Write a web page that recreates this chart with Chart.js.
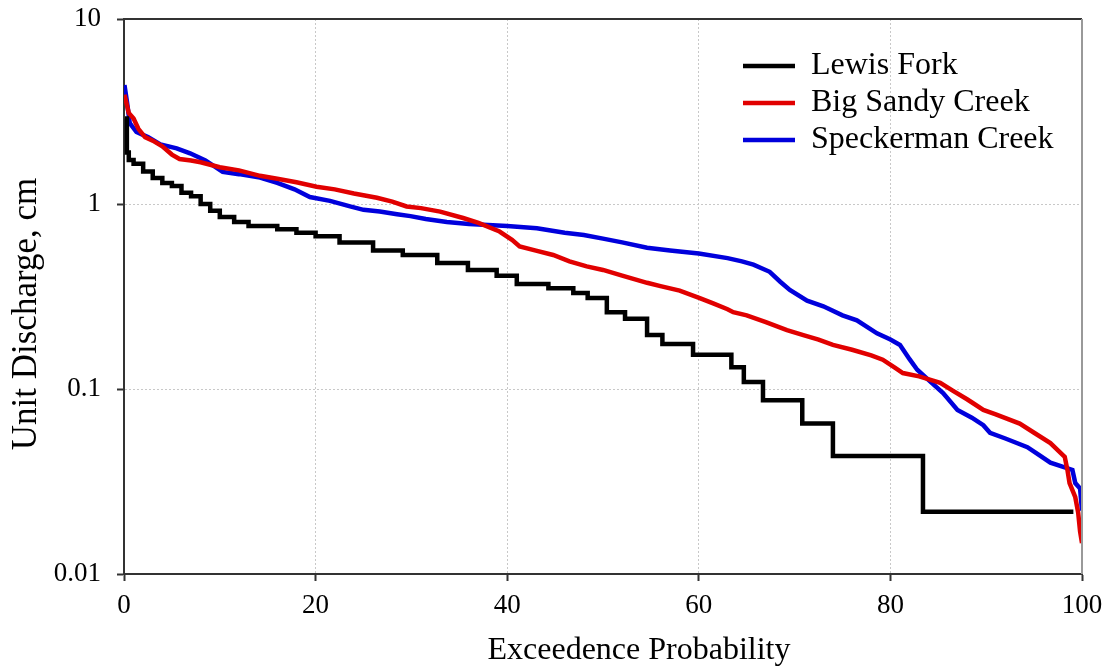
<!DOCTYPE html>
<html>
<head>
<meta charset="utf-8">
<title>Flow duration curves</title>
<script src="https://cdn.jsdelivr.net/npm/chart.js@4.4.1/dist/chart.umd.min.js"></script>
<style>
  html, body { margin: 0; padding: 0; background: #fff; }
  #wrap { width: 1113px; height: 671px; position: relative; }
</style>
</head>
<body>
<div id="wrap"><canvas id="chartCanvas"></canvas></div>
<script>
// Exceedence probability (%) and unit discharge (cm)

// Lewis Fork – step series, x = start of each step
const lewisX = [0.1, 0.3, 0.5, 1, 2, 3, 4, 5, 6, 7, 8, 9, 10, 11.5, 13, 16, 18, 20, 22.5, 26,
    29.1, 32.7, 35.9, 38.9, 41.0, 44.3, 46.9, 48.4, 50.4, 52.3, 54.6, 56.2, 59.4,
    63.4, 64.7, 66.7, 70.8, 74.0, 83.4, 99.1];
const lewisY = [2.9, 1.9, 1.73, 1.65, 1.5, 1.38, 1.3, 1.25, 1.15, 1.1, 1.0, 0.92, 0.85, 0.8, 0.76, 0.73, 0.7, 0.67, 0.62, 0.56,
    0.53, 0.48, 0.44, 0.41, 0.37, 0.35, 0.33, 0.31, 0.26, 0.24, 0.196, 0.175, 0.153,
    0.131, 0.109, 0.087, 0.065, 0.0435, 0.0217, 0.0217];

// Big Sandy Creek
const sandyX = [0.05, 0.5, 1.0, 1.5, 2.2, 3, 4, 5, 5.8, 7, 8, 10, 12, 14.2, 16, 18, 20.1, 22, 24, 26.4,
    28, 29.5, 31, 33, 35.4, 37, 39.2, 40.5, 41.3, 43, 44.8, 46.5, 48.3, 50, 52, 54.6, 56, 58,
    60.1, 61.5, 63, 63.6, 65, 67, 69.2, 71, 72.5, 74, 76, 78, 79.2, 80.5, 81.3, 83, 85.2,
    86.5, 88, 88.6, 89.7, 91, 93.5, 95, 96.7, 98.2, 98.5, 98.7, 99.3, 99.6, 99.8, 100];
const sandyY = [3.9, 3.1, 2.9, 2.55, 2.3, 2.2, 2.05, 1.85, 1.75, 1.72, 1.68, 1.58, 1.52, 1.42, 1.37, 1.31, 1.24, 1.2, 1.14, 1.08,
    1.03, 0.97, 0.95, 0.91, 0.84, 0.79, 0.71, 0.64, 0.59, 0.56, 0.53, 0.49, 0.46, 0.44, 0.41, 0.375, 0.36, 0.34,
    0.31, 0.29, 0.27, 0.26, 0.25, 0.23, 0.208, 0.195, 0.185, 0.173, 0.163, 0.152, 0.144, 0.13, 0.122, 0.117, 0.108,
    0.098, 0.088, 0.084, 0.077, 0.073, 0.065, 0.058, 0.051, 0.043, 0.036, 0.031, 0.026, 0.0215, 0.017, 0.0147];

// Speckerman Creek
const speckX = [0.05, 0.3, 0.6, 1.3, 2.5, 3.8, 5.5, 6.9, 8.5, 10.3, 12, 14.2, 16, 17.8, 19.4, 21.5, 23.6, 25, 26.7,
    28.5, 29.9, 31.5, 33.7, 36, 38, 40, 43.1, 46, 48, 50, 52, 54.6, 57, 60, 63, 64.5, 65.7, 67.4,
    68.5, 69.5, 71.3, 73, 75, 76.5, 78.6, 80, 81, 82, 82.8, 84.4, 85.5, 87, 88.5, 89.7, 90.4,
    92, 94.3, 95.5, 96.7, 99, 99.3, 99.8, 100];
const speckY = [4.4, 3.6, 2.74, 2.45, 2.3, 2.1, 2.0, 1.88, 1.72, 1.49, 1.45, 1.39, 1.3, 1.2, 1.09, 1.04, 0.97, 0.93, 0.91,
    0.88, 0.86, 0.83, 0.8, 0.78, 0.77, 0.76, 0.74, 0.7, 0.68, 0.65, 0.62, 0.58, 0.56, 0.54, 0.51, 0.49, 0.47, 0.43,
    0.38, 0.343, 0.3, 0.28, 0.25, 0.235, 0.2, 0.185, 0.173, 0.145, 0.127, 0.107, 0.095, 0.077, 0.07, 0.0637, 0.058,
    0.054, 0.0485, 0.044, 0.04, 0.0365, 0.031, 0.029, 0.022];

const seriesNames = ['Lewis Fork', 'Big Sandy Creek', 'Speckerman Creek'];
const seriesColors = ['#000000', '#e10000', '#0000dc'];
const yTickValues = [0.01, 0.1, 1, 10];

const FONT = '"Liberation Serif", "Times New Roman", serif';
Chart.defaults.font.family = FONT;
Chart.defaults.color = '#000';

function toPoints(xs, ys) {
    return xs.map((x, i) => ({ x: x, y: ys[i] }));
}

// put the built-in legend in the upper right of the plot
const legendPlace = {
    id: 'legendPlace',
    afterLayout(chart) {
        const lg = chart.legend;
        const a = chart.chartArea;
        const w = lg.width;
        lg.left = a.left + 614;
        lg.right = lg.left + w;
        lg.top = a.top + 26;
        lg.bottom = a.bottom;
    }
};

// top and right edges of the plot frame
const frame = {
    id: 'frame',
    afterDraw(chart) {
        const { ctx, chartArea: a } = chart;
        ctx.save();
        ctx.lineWidth = 2;
        ctx.strokeStyle = '#333';
        ctx.beginPath();
        ctx.moveTo(a.left, a.top);
        ctx.lineTo(a.right, a.top);
        ctx.stroke();
        ctx.strokeStyle = '#999';
        ctx.beginPath();
        ctx.moveTo(a.right, a.top);
        ctx.lineTo(a.right, a.bottom);
        ctx.stroke();
        ctx.restore();
    }
};

const ctx = document.getElementById('chartCanvas');
new Chart(ctx, {
    type: 'line',
    data: {
        datasets: [
            {
                label: seriesNames[0],
                data: toPoints(lewisX, lewisY),
                borderColor: seriesColors[0],
                backgroundColor: seriesColors[0],
                borderWidth: 4.5,
                stepped: 'before',
                pointRadius: 0,
            },
            {
                label: seriesNames[1],
                data: toPoints(sandyX, sandyY),
                borderColor: seriesColors[1],
                backgroundColor: seriesColors[1],
                borderWidth: 4.5,
                pointRadius: 0,
            },
            {
                label: seriesNames[2],
                data: toPoints(speckX, speckY),
                borderColor: seriesColors[2],
                backgroundColor: seriesColors[2],
                borderWidth: 4.5,
                pointRadius: 0,
            },
        ],
    },
    options: {
        responsive: true,
        maintainAspectRatio: false,
        animation: false,
        layout: { padding: { top: 19, right: 31, left: 0, bottom: 0 } },
        plugins: {
            legend: {
                position: 'chartArea',
                align: 'start',
                labels: {
                    usePointStyle: true,
                    pointStyle: 'line',
                    pointStyleWidth: 52,
                    padding: 5,
                    font: { size: 32 },
                    color: '#000',
                },
            },
            tooltip: { enabled: false },
        },
        scales: {
            x: {
                type: 'linear',
                min: 0,
                max: 100,
                ticks: {
                    stepSize: 20,
                    padding: 9,
                    font: { size: 27 },
                    color: '#000',
                },
                grid: {
                    color: '#c8c8c8',
                    lineWidth: 1,
                    tickLength: 7,
                    tickColor: '#333',
                    tickWidth: 2,
                },
                border: { color: '#333', width: 2, dash: [2, 2] },
                title: {
                    display: true,
                    text: '         Exceedence Probability',
                    font: { size: 32 },
                    color: '#000',
                    padding: { top: 2, bottom: 1 },
                },
                afterFit(scale) { scale.height = 97; },
            },
            y: {
                type: 'logarithmic',
                min: 0.01,
                max: 10,
                afterBuildTicks(scale) {
                    scale.ticks = yTickValues.map(v => ({ value: v }));
                },
                ticks: {
                    padding: 16,
                    font: { size: 27 },
                    color: '#000',
                    callback: v => String(v),
                },
                grid: {
                    color: '#c8c8c8',
                    lineWidth: 1,
                    tickLength: 7,
                    tickColor: '#333',
                    tickWidth: 2,
                },
                border: { color: '#333', width: 2, dash: [2, 2] },
                title: {
                    display: true,
                    text: 'Unit Discharge, cm    ',
                    font: { size: 35 },
                    color: '#000',
                    padding: { top: 6, bottom: 2 },
                },
                afterFit(scale) {
                    scale.width = 124;
                    scale.paddingTop = 0;
                    scale.paddingBottom = 0;
                },
            },
        },
    },
    plugins: [legendPlace, frame],
});
</script>
</body>
</html>
